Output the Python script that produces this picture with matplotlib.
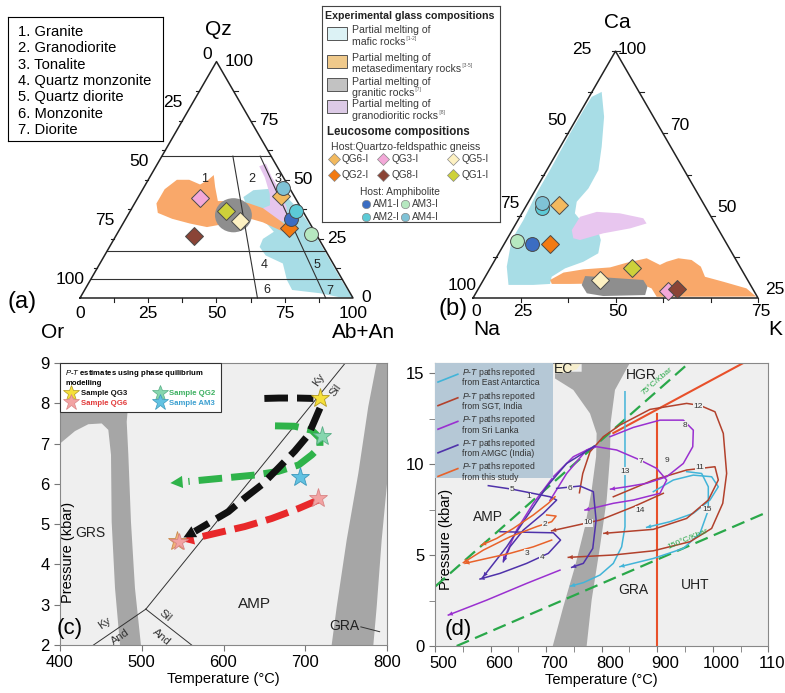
import numpy as np
import matplotlib.pyplot as plt
from matplotlib.patches import Polygon, Ellipse, Rectangle
from matplotlib.lines import Line2D
from matplotlib.legend_handler import HandlerBase
from matplotlib.ticker import MultipleLocator
import matplotlib.transforms as mtransforms

plt.rcParams['font.family'] = ['Liberation Sans', 'DejaVu Sans']
plt.rcParams['mathtext.fontset'] = 'custom'
plt.rcParams['mathtext.it'] = 'Liberation Sans:italic'
plt.rcParams['mathtext.rm'] = 'Liberation Sans'

W, H = 785, 693
S3 = np.sqrt(3) / 2

# ---------------- (a) Qz - Or - (Ab+An), values as (Ab+An %, Qz %) ----------------
rock_types = ['1. Granite', '2. Granodiorite', '3. Tonalite', '4. Quartz monzonite',
              '5. Quartz diorite', '6. Monzonite', '7. Diorite']
qz_lines = [60, 20, 8]
plag_lines = [65, 90]
field_nums = ['1', '2', '3', '4', '5', '6', '7']
field_ab = [20.7, 37.9, 47.4, 60.4, 80.0, 66.7, 89.8]
field_qz = [50.2, 50.2, 50.5, 13.9, 13.9, 3.4, 3.1]

mafic_a_ab = [38.5, 40.7, 47.7, 54.4, 60, 66.6, 72.5, 82.5, 92.5, 99.5, 95, 87, 76, 72, 67, 59, 55, 54.5, 57, 52.6, 45.6, 41.5]
mafic_a_qz = [42.7, 45.6, 46.3, 42.7, 38.5, 32.9, 27, 17, 7, 0.3, 0.3, 2, 3.4, 7.6, 14.6, 18, 21.6, 25, 28, 31.5, 35.7, 39]
gd_a_ab = [37.8, 39.7, 44.6, 50.5, 56.4, 60, 55.6, 48.4, 47.7, 50, 47.5, 42.2]
gd_a_qz = [55.7, 56.8, 51.2, 45.6, 38.5, 32, 32.9, 35, 37.8, 39.2, 44, 51]
sed_a_ab = [8, 8, 10.5, 15, 20, 22, 23, 26, 30, 38, 42, 48, 59, 65, 60.5, 51, 44, 38, 31.5, 24.5, 17, 10.5]
sed_a_qz = [40, 46, 50, 50, 48, 50, 52, 47, 41, 41, 40, 38, 31.5, 26.5, 28, 32, 34, 31.5, 30, 31.5, 33.5, 36]
granitic_a = (38.7, 35.0)

leuco_names = ['QG6-I', 'QG3-I', 'QG5-I', 'QG2-I', 'QG8-I', 'QG1-I']
leuco_colors = ['#f2b95e', '#f3a8d8', '#fdf1c2', '#f27a12', '#8a4436', '#cdd13a']
leuco_a_ab = [52, 22.7, 42.4, 61.7, 28.7, 35]
leuco_a_qz = [43, 42.5, 32.5, 29.7, 26.2, 37]
amph_names = ['AM1-I', 'AM3-I', 'AM2-I', 'AM4-I']
amph_colors = ['#3b6dc2', '#b6e8c0', '#5ccad6', '#7fc2d6']
amph_a_ab = [60.4, 71, 60.6, 51]
amph_a_qz = [33.6, 27, 37, 46.5]

# ---------------- (b) Na - K - Ca, values as (K %, Ca %) of the triangle ----------------
mafic_b_k = [0.9, 3.4, 9.3, 14.5, 18.1, 18.3, 16.9, 18.6, 22.7, 29, 33.1, 34.9, 31.4, 26.3, 23.3, 24.2, 18.5, 9.8, 5.5, 1.8, 1.9, 1.1, 1.1, 0.7, 0.7]
mafic_b_ca = [81.5, 83.5, 73.4, 61.3, 51.8, 44.4, 39, 34.3, 30.9, 28.9, 23.5, 18.1, 14.7, 12, 8.6, 5.7, 5.3, 5.3, 12.7, 23.5, 31.6, 42.4, 51.8, 66.7, 76.1]
gd_b_k = [20.9, 21.1, 26, 34.4, 43.6, 45.8, 41, 32.6, 25.8, 23.1]
gd_b_ca = [27.5, 32.9, 34.9, 34.3, 32.3, 30.2, 28.2, 26.2, 23.5, 24.2]
sed_b_k = [23.4, 26.6, 32.9, 41.9, 46.8, 52.9, 58.9, 60.6, 64, 69, 73.6, 77.1, 84.5, 94, 99, 64.2, 60.7, 57.1, 42.8, 31.2, 24.8]
sed_b_ca = [7.3, 10.3, 11.6, 12.4, 14.3, 16.1, 13.4, 14.7, 16.1, 15.4, 12.7, 8.6, 6.6, 3.9, 0.6, 0.5, 3.9, 5.3, 5.9, 5.7, 5.7]
gran_b_k = [34.9, 56.1, 58.9, 59.8, 45.3, 39, 35.5]
gran_b_ca = [8.9, 7.3, 4.6, 1.2, 0.8, 1.9, 5.3]
leuco_b_k = [11.5, 67.1, 40.9, 16.1, 69.7, 49.7]
leuco_b_ca = [37.7, 2.8, 7.3, 21.7, 3.5, 12]
amph_b_k = [9.7, 3.8, 5.9, 4.8]
amph_b_ca = [21.9, 23.1, 36.3, 38.6]

# ---------------- (c) P-T paths ----------------
grs_T = [400, 487.7, 481.6, 483.6, 486.8, 491.7, 499, 473.4, 467.3, 463.2, 462.4, 459.1, 451, 434.6, 418.3, 400]
grs_P = [9, 9, 7.54, 6.72, 5.06, 3.41, 2.0, 2.0, 3.41, 5.06, 6.72, 7.34, 7.5, 7.48, 7.31, 7.0]
gra_c_T = [787.4, 777.1, 764.9, 750.7, 738.5, 732.3, 783.3, 787.4, 793.5, 800, 800]
gra_c_P = [9, 7.92, 6.26, 4.61, 2.95, 2.0, 2.0, 2.95, 4.61, 6.0, 9]
kysil_T, kysil_P = [505, 749], [2.89, 9]
kyand_T, kyand_P = [505, 441], [2.89, 2.0]
andsil_T, andsil_P = [505, 561], [2.89, 2.0]

qg3_pre_T = [650, 668, 690, 710]
qg3_pre_P = [8.12, 8.13, 8.13, 8.12]
qg3_T = [718, 704, 687, 667, 647, 626, 606, 585, 565, 551]
qg3_P = [7.88, 7.22, 6.81, 6.39, 5.98, 5.65, 5.31, 5.06, 4.82, 4.67]
qg2_T = [663, 687, 708, 718, 718, 708, 692, 667, 639, 598, 557, 535]
qg2_P = [7.44, 7.43, 7.33, 7.13, 6.92, 6.72, 6.47, 6.31, 6.22, 6.14, 6.06, 6.02]
qg6_T = [716, 692, 659, 626, 590, 565, 549]
qg6_P = [5.6, 5.39, 5.14, 4.94, 4.77, 4.65, 4.58]
star_labels = ['Sample QG3', 'Sample QG6', 'Sample QG2', 'Sample AM3']
star_fc = ['#f6e03a', '#f2a3a3', '#86d6ae', '#62c2e2']
star_ec = ['#b39a22', '#d98585', '#5aae86', '#3d98bb']
star_text = ['#111111', '#e23a3a', '#3cb060', '#3a9fd0']
star_T = [718, 716, 720, 693.5]
star_P = [8.12, 5.64, 7.19, 6.18]
start_T = [543, 546]
start_P = [4.58, 4.55]

# ---------------- (d) compiled P-T paths ----------------
band_d_T = [764, 851, 824, 816, 815, 809, 797, 782, 773, 712, 731, 752, 770, 782, 790, 791, 779, 749, 716, 716, 764]
band_d_P = [15.57, 15.57, 14.07, 12.23, 10.4, 8.02, 5.46, 2.53, 0, 0, 2.16, 4.36, 6.56, 8.57, 10.4, 11.68, 12.78, 14.07, 14.7, 15.07, 15.07]
ec_T = [713, 764, 755, 737, 716]
ec_P = [15.57, 15.57, 15.2, 15.02, 14.98]
grad75_T, grad75_P = [500, 953], [3.26, 15.44]
grad150_T, grad150_P = [539, 1100], [0, 7.38]
uht_T, uht_P = [900, 900], [0, 12.75]
red_T, red_P = [821, 1055], [11.7, 15.55]

group_labels = ['from East Antarctica', 'from SGT, India', 'from Sri Lanka', 'from AMGC (India)', 'from this study']
group_colors = ['#42b4d8', '#b2412c', '#9a30d0', '#4f32aa', '#e8622a']
paths_d = [
    (0, [842, 842, 836, 821, 797, 767, 744], [13.97, 6.55, 5.45, 4.54, 3.90, 3.48, 3.29]),
    (0, [893, 929, 965, 998, 1010, 995, 965, 923, 881], [8.48, 9.12, 9.39, 9.30, 8.75, 8.02, 7.29, 6.83, 6.52]),
    (0, [953, 980, 992, 992, 977, 947, 893, 833], [9.58, 9.48, 8.75, 7.47, 6.19, 5.36, 4.81, 4.36]),
    (1, [760, 766, 779, 803, 833, 887, 953, 977, 1004, 1019, 1025, 1018, 998, 959, 893, 821, 740],
        [8.42, 9.48, 10.67, 11.5, 12.14, 13.0, 13.33, 13.22, 12.87, 11.68, 9.48, 7.84, 6.46, 5.73, 5.23, 5.0, 4.87]),
    (1, [821, 893, 953, 1004, 1010, 992, 953, 893, 804], [8.2, 9.12, 9.67, 9.85, 9.12, 8.02, 7.01, 6.41, 6.19]),
    (1, [911, 857, 797, 710], [8.39, 7.65, 6.92, 6.33]),
    (2, [815, 857, 905, 947, 965, 964, 947, 917, 881, 845, 816], [11.5, 12.01, 12.41, 12.41, 11.86, 10.95, 10.03, 9.3, 8.94, 8.75, 8.62]),
    (2, [707, 737, 773, 791, 827, 869, 899, 917, 905, 857, 821, 770], [8.0, 9.48, 10.77, 10.95, 10.77, 10.22, 9.76, 9.12, 8.39, 8.02, 7.84, 7.47]),
    (2, [788, 749, 713, 677, 647, 623], [10.99, 10.4, 9.3, 7.84, 6.37, 4.72]),
    (2, [725, 665, 593, 524], [4.17, 3.44, 2.52, 1.7]),
    (3, [596, 638, 707, 719, 695, 659, 635, 623], [8.81, 8.62, 8.2, 8.02, 7.29, 6.37, 5.45, 4.63]),
    (3, [719, 761, 785, 790, 784, 767, 746], [8.66, 8.79, 8.48, 6.92, 5.36, 4.54, 4.32]),
    (3, [617, 713, 726, 704, 665, 617, 581], [6.28, 6.22, 5.82, 5.09, 4.54, 3.99, 3.68]),
    (3, [788, 737, 701, 665, 629, 587], [10.99, 10.03, 8.75, 7.1, 5.45, 3.81]),
    (4, [716, 704, 677, 641, 611, 584], [8.2, 7.84, 7.2, 6.46, 5.91, 5.55]),
    (4, [701, 718, 710, 683, 635, 587, 551], [7.2, 7.14, 6.83, 6.56, 6.0, 5.27, 4.58]),
    (4, [710, 677, 635, 593, 554], [5.82, 5.45, 5.09, 4.81, 4.54]),
]
path_nums = ['1', '2', '3', '4', '5', '6', '7', '8', '9', '10', '11', '12', '13', '14', '15']
num_T = [668, 698, 665, 692, 638, 743, 870, 950, 917, 776, 977, 973, 842, 869, 989]
num_P = [8.2, 6.65, 5.09, 4.87, 8.62, 8.66, 10.13, 12.14, 10.18, 6.77, 9.8, 13.18, 9.61, 7.47, 7.5]

fig = plt.figure(figsize=(7.85, 6.93), dpi=100)


def rect_px(left, top, right, bottom):
    return [left / W, 1 - bottom / H, (right - left) / W, (bottom - top) / H]


def tern_axes(ox, oy, scale, xlim, ylim):
    ax = fig.add_axes(rect_px(ox + xlim[0] * scale, oy - ylim[1] * scale,
                              ox + xlim[1] * scale, oy - ylim[0] * scale))
    ax.set_xlim(*xlim)
    ax.set_ylim(*ylim)
    ax.axis('off')
    return ax


def txy(b, t):
    b = np.asarray(b, float) / 100
    t = np.asarray(t, float) / 100
    return b + t / 2, t * S3


def tpoly(ax, b, t, color, z):
    x, y = txy(b, t)
    ax.add_patch(Polygon(np.column_stack([x, y]), closed=True, fc=color, ec='none', zorder=z))


def triangle(ax, step):
    ax.plot([0, 1, 0.5, 0], [0, 0, S3, 0], color='#222222', lw=1.1, zorder=6)
    for f in np.arange(step, 1, step):
        ax.plot([f, f], [0, -0.015], color='#222222', lw=0.8)
        ax.plot([f / 2, f / 2 - 0.012], [f * S3, f * S3], color='#222222', lw=0.8)
        ax.plot([1 - f / 2, 1 - f / 2 + 0.015], [f * S3, f * S3], color='#222222', lw=0.8)


def markers(ax, lb, lt, ab, at):
    for b, t, c in zip(lb, lt, leuco_colors):
        x, y = txy(b, t)
        ax.plot(x, y, 'D', ms=9, mfc=c, mec='#4a4a4a', mew=0.7, zorder=8)
    for b, t, c in zip(ab, at, amph_colors):
        x, y = txy(b, t)
        ax.plot(x, y, 'o', ms=10, mfc=c, mec='#4a4a4a', mew=0.7, zorder=8)


# ---------------- panel (a) ----------------
axa = tern_axes(80, 298, 273, (-0.27, 1.27), (-0.2, 1.0))
tpoly(axa, mafic_a_ab, mafic_a_qz, '#a8dde6', 1)
tpoly(axa, gd_a_ab, gd_a_qz, '#e6c6ee', 2)
tpoly(axa, sed_a_ab, sed_a_qz, '#f9a86a', 3)
gx, gy = txy(*granitic_a)
axa.add_patch(Ellipse((gx, gy), 0.135, 0.125, fc='#8e8e8e', ec='none', zorder=4))
for q in qz_lines:
    axa.plot([q / 200, 1 - q / 200], [q / 100 * S3] * 2, color='#333333', lw=0.8, zorder=5)
for r in plag_lines:
    x, y = txy([0.4 * r, r], [60, 0])
    axa.plot(x, y, color='#333333', lw=0.8, zorder=5)
for s, b, t in zip(field_nums, field_ab, field_qz):
    x, y = txy(b, t)
    axa.text(x, y, s, fontsize=9, ha='center', va='center', color='#222222', zorder=7)
triangle(axa, 0.125)
markers(axa, leuco_a_ab, leuco_a_qz, amph_a_ab, amph_a_qz)
left_ticks_a = ['0', '25', '50', '75', '100']
right_ticks_a = ['100', '75', '50', '25', '0']
for lab_l, lab_r, q in zip(left_ticks_a, right_ticks_a, [100, 75, 50, 25, 0]):
    x, y = txy(0, q)
    off = (-7, 5) if q == 100 else (-7, 13)
    axa.annotate(lab_l, (x, y), xytext=off, textcoords='offset points', ha='center', va='center', fontsize=12.5)
    x, y = txy(100 - q, q)
    axa.annotate(lab_r, (x, y), xytext=(6, 0), textcoords='offset points', ha='left', va='center', fontsize=12.5)
for lab, b in zip(['0', '25', '50', '75', '100'], [0, 25, 50, 75, 100]):
    x, y = txy(b, 0)
    axa.annotate(lab, (x, y), xytext=(0, -11), textcoords='offset points', ha='center', va='center', fontsize=12.5)
axa.text(0.505, 0.985, 'Qz', fontsize=15, ha='center', va='center')
axa.text(-0.099, -0.128, 'Or', fontsize=15, ha='center', va='center')
axa.text(1.037, -0.128, 'Ab+An', fontsize=15, ha='center', va='center')
axa.text(-0.212, -0.015, '(a)', fontsize=17, ha='center', va='center')

# rock type key
axk = fig.add_axes(rect_px(8, 17, 163, 141))
axk.set_xticks([])
axk.set_yticks([])
for sp in axk.spines.values():
    sp.set_linewidth(0.8)
for i, name in enumerate(rock_types):
    axk.text(0.065, 1 - (15 + 16.3 * i) / 124, name, fontsize=10.6, va='center', transform=axk.transAxes)

# ---------------- panel (b) ----------------
axb = tern_axes(473, 298, 285, (-0.25, 1.09), (-0.2, 0.95))
tpoly(axb, mafic_b_k, mafic_b_ca, '#a8dde6', 1)
tpoly(axb, gd_b_k, gd_b_ca, '#e8c6ef', 2)
tpoly(axb, sed_b_k, sed_b_ca, '#f9a86a', 3)
tpoly(axb, gran_b_k, gran_b_ca, '#8e8e8e', 4)
triangle(axb, 1 / 6)
markers(axb, leuco_b_k, leuco_b_ca, amph_b_k, amph_b_ca)
for lab, f in zip(['0', '25', '50', '75'], [0, 1 / 6, 1 / 2, 1]):
    axb.annotate(lab, (f, 0), xytext=(2, -10), textcoords='offset points', ha='center', va='center', fontsize=12.5)
for lab, f in zip(['100', '75', '50', '25'], [0, 1 / 3, 2 / 3, 1]):
    off = (-24, 1.5) if f == 1 else (-8, 9)
    axb.annotate(lab, (f / 2, f * S3), xytext=off, textcoords='offset points', ha='center', va='center', fontsize=12.5)
for lab, f in zip(['25', '50', '70', '100'], [0, 1 / 3, 2 / 3, 1]):
    axb.annotate(lab, (1 - f / 2, f * S3), xytext=(12, 6 if f < 1 else 1), textcoords='offset points',
                 ha='center', va='center', fontsize=12.5)
axb.text(0.505, 0.965, 'Ca', fontsize=15, ha='center', va='center')
axb.text(0.049, -0.11, 'Na', fontsize=15, ha='center', va='center')
axb.text(1.062, -0.11, 'K', fontsize=15, ha='center', va='center')
axb.text(-0.07, -0.04, '(b)', fontsize=17, ha='center', va='center')

# ---------------- composition key ----------------
axl = fig.add_axes(rect_px(322, 6, 500, 222))
axl.set_xlim(0, 178)
axl.set_ylim(216, 0)
axl.set_xticks([])
axl.set_yticks([])
for sp in axl.spines.values():
    sp.set_linewidth(0.8)
    sp.set_color('#444444')
axl.text(3, 10, 'Experimental glass compositions', fontsize=7.7, fontweight='bold', va='center', color='#222222')
swatch_colors = ['#dcf2f5', '#efc98b', '#c2c2c2', '#dccae6']
swatch_y = [21, 49, 72, 94]
sw_lines = [('Partial melting of', 'mafic rocks', '[1-2]'),
            ('Partial melting of', 'metasedimentary rocks', '[3-5]'),
            ('Partial melting of', 'granitic rocks', '[7]'),
            ('Partial melting of', 'granodioritic rocks', '[8]')]
sw_text_y = [(24, 36), (52, 63), (76, 87), (98, 110)]
for c, y0, (l1, l2, ref), (y1, y2) in zip(swatch_colors, swatch_y, sw_lines, sw_text_y):
    axl.add_patch(Rectangle((5, y0), 20, 13, fc=c, ec='#555555', lw=0.7))
    axl.text(30, y1, l1, fontsize=7.6, va='center', color='#3a3a3a')
    t2 = axl.text(30, y2, l2, fontsize=7.6, va='center', color='#3a3a3a')
    axl.annotate(' ' + ref, xy=(1, 0.6), xycoords=t2, fontsize=3.5, va='bottom', color='#555555')
axl.text(5, 126, 'Leucosome compositions', fontsize=8.3, fontweight='bold', va='center', color='#222222')
axl.text(9, 141, 'Host:Quartzo-feldspathic gneiss', fontsize=7.6, va='center', color='#3a3a3a')
lx = [12, 61, 131]
for i, (name, c) in enumerate(zip(leuco_names, leuco_colors)):
    x, y = lx[i % 3], 153 + 16 * (i // 3)
    axl.plot(x, y, 'D', ms=6, mfc=c, mec='#888888', mew=0.5)
    axl.text(x + 8, y, name, fontsize=7.2, va='center', color='#3a3a3a')
axl.text(38, 186, 'Host: Amphibolite', fontsize=7.4, va='center', color='#3a3a3a')
for i, (name, c) in enumerate(zip(amph_names, amph_colors)):
    x, y = [44, 83][i % 2], 198 + 13 * (i // 2)
    axl.plot(x, y, 'o', ms=6, mfc=c, mec='#888888', mew=0.5)
    axl.text(x + 7, y, name, fontsize=7.2, va='center', color='#3a3a3a')

# ---------------- panel (c) ----------------
axc = fig.add_axes(rect_px(60, 363, 387, 645))
axc.set_facecolor('#efefef')
axc.set_xlim(400, 800)
axc.set_ylim(2, 9)
axc.add_patch(Polygon(np.column_stack([grs_T, grs_P]), fc='#a6a6a6', ec='none', zorder=1))
axc.add_patch(Polygon(np.column_stack([gra_c_T, gra_c_P]), fc='#a6a6a6', ec='none', zorder=1))
for T, P in [(kysil_T, kysil_P), (kyand_T, kyand_P), (andsil_T, andsil_P)]:
    axc.plot(T, P, color='#333333', lw=0.7, zorder=2)


def dashed_arrow(ax, T, P, color, lw, dash, head):
    ax.plot(T[:-1], P[:-1], color=color, lw=lw, ls=(0, dash), dash_capstyle='butt', zorder=3)
    ax.annotate('', xy=(T[-1], P[-1]), xytext=(T[-2], P[-2]),
                arrowprops=dict(arrowstyle='-|>', color=color, lw=0, mutation_scale=head,
                                shrinkA=0, shrinkB=0), zorder=3)


axc.plot(qg3_pre_T, qg3_pre_P, color='#111111', lw=5, ls=(0, (3.4, 1.3)), dash_capstyle='butt', zorder=3)
dashed_arrow(axc, qg2_T, qg2_P, '#2fb34a', 5, (3.4, 1.3), 22)
dashed_arrow(axc, qg6_T, qg6_P, '#e8282a', 5, (3.4, 1.3), 22)
dashed_arrow(axc, qg3_T, qg3_P, '#111111', 5, (3.4, 1.3), 22)
for T, P, fc, ec in zip(star_T, star_P, star_fc, star_ec):
    axc.plot(T, P, '*', ms=14, mfc=fc, mec=ec, mew=0.6, zorder=5)
axc.plot(start_T[0], start_P[0], '*', ms=14, mfc='#f3b27a', mec='#c98a50', mew=0.6, zorder=5)
axc.plot(start_T[1], start_P[1], '*', ms=13, mfc='#f2a3a3', mec='#d98585', mew=0.6, zorder=5)

axc.text(716, 8.58, 'Ky', fontsize=8, rotation=55, ha='center', va='center', color='#333333')
axc.text(737, 8.33, 'Sil', fontsize=8, rotation=55, ha='center', va='center', color='#333333')
axc.text(454, 2.55, 'Ky', fontsize=8, rotation=35, ha='center', va='center', color='#333333')
axc.text(474, 2.2, 'And', fontsize=8, rotation=35, ha='center', va='center', color='#333333')
axc.text(529, 2.72, 'Sil', fontsize=8, rotation=-40, ha='center', va='center', color='#333333')
axc.text(524, 2.2, 'And', fontsize=8, rotation=-40, ha='center', va='center', color='#333333')
axc.text(437, 4.77, 'GRS', fontsize=10, ha='center', va='center', color='#222222')
axc.text(638, 3.02, 'AMP', fontsize=11, ha='center', va='center', color='#222222')
axc.text(748, 2.48, 'GRA', fontsize=10, ha='center', va='center', color='#222222')
axc.plot([768, 791], [2.45, 2.33], color='#333333', lw=0.7)
axc.text(412, 2.42, '(c)', fontsize=16, ha='center', va='center')

star_handles = [Line2D([], [], ls='', marker='*', ms=12, mfc=fc, mec=ec, mew=0.5)
                for fc, ec in zip(star_fc, star_ec)]
leg = axc.legend(star_handles, star_labels, ncol=2, loc='upper left', bbox_to_anchor=(0, 1), borderaxespad=0,
                 title=r'$\it{P}$-$\it{T}$ estimates using phase quilibrium' + '\nmodelling',
                 title_fontproperties={'weight': 'bold', 'size': 5.6}, prop={'weight': 'bold', 'size': 5.6},
                 alignment='left', fancybox=False, edgecolor='#333333', framealpha=1, borderpad=0.7,
                 handletextpad=0.5, columnspacing=3.4, labelspacing=0.3, handlelength=1.5)
leg.get_frame().set_linewidth(0.8)
leg.set_zorder(10)
for t, c in zip(leg.get_texts(), star_text):
    t.set_color(c)

axc.xaxis.set_major_locator(MultipleLocator(100))
axc.yaxis.set_major_locator(MultipleLocator(1))
axc.tick_params(labelsize=12, length=4, color='#777777')
for sp in axc.spines.values():
    sp.set_color('#888888')
axc.set_xlabel('Temperature (°C)', fontsize=10.5, labelpad=1)
axc.set_ylabel('Pressure (kbar)', fontsize=10.5)
axc.yaxis.set_label_coords(0.046, 0.33)

# ---------------- panel (d) ----------------
axd = fig.add_axes(rect_px(435, 363, 768.3, 646))
axd.set_facecolor('#efefef')
axd.set_xlim(500, 1100)
axd.set_ylim(0, 15.55)
axd.add_patch(Polygon(np.column_stack([band_d_T, band_d_P]), fc='#a8a8a8', ec='none', zorder=1))
axd.add_patch(Polygon(np.column_stack([ec_T, ec_P]), fc='#f6eecd', ec='none', zorder=1))
axd.plot(grad75_T, grad75_P, color='#2aa84a', lw=1.6, ls=(0, (6, 3)), zorder=2)
axd.plot(grad150_T, grad150_P, color='#2aa84a', lw=1.6, ls=(0, (6, 3)), zorder=2)
axd.plot(uht_T, uht_P, color='#e8502a', lw=1.5, zorder=2)
axd.plot(red_T, red_P, color='#e8502a', lw=1.5, zorder=2)
for g, T, P in paths_d:
    c = group_colors[g]
    axd.plot(T, P, color=c, lw=1.1, zorder=3)
    axd.annotate('', xy=(T[-1], P[-1]), xytext=(T[-2], P[-2]),
                 arrowprops=dict(arrowstyle='-|>', color=c, lw=0, mutation_scale=8, shrinkA=0, shrinkB=0),
                 zorder=3)
for s, T, P in zip(path_nums, num_T, num_P):
    axd.text(T, P, s, fontsize=6, ha='center', va='center', color='#333333', zorder=4,
             bbox=dict(fc='#efefef', ec='none', pad=0.3))
axd.text(900, 14.55, '75°C/Kbar', fontsize=6, rotation=41, color='#2aa84a', ha='center', va='center')
axd.text(955, 5.85, '150°C/Kbar', fontsize=6, rotation=23, color='#2aa84a', ha='center', va='center')
axd.text(596, 7.1, 'AMP', fontsize=10, ha='center', va='center', color='#222222')
axd.text(857, 3.07, 'GRA', fontsize=10, ha='center', va='center', color='#222222')
axd.text(968, 3.35, 'UHT', fontsize=10, ha='center', va='center', color='#222222')
axd.text(872, 14.9, 'HGR', fontsize=10, ha='center', va='center', color='#222222')
axd.text(731, 15.2, 'EC', fontsize=10, ha='center', va='center', color='#222222')
axd.text(542, 0.9, '(d)', fontsize=16, ha='center', va='center')


class DiagHandler(HandlerBase):
    def create_artists(self, legend, orig_handle, xdescent, ydescent, width, height, fontsize, trans):
        x0, x1 = -xdescent, -xdescent + width
        y0, y1 = -ydescent - 0.3 * height, -ydescent + 1.0 * height
        return [Line2D([x0, x1], [y0, y1], color=orig_handle.get_color(), lw=1.2, transform=trans)]


axd.add_patch(Rectangle((0, 0.594), 0.354, 0.406, transform=axd.transAxes, fc='#b5c8d6', ec='none', zorder=6))
d_handles = [Line2D([], [], color=c, lw=1.2) for c in group_colors]
d_labels = [r'$\it{P}$-$\it{T}$ paths reported' + '\n' + s for s in group_labels]
legd = axd.legend(d_handles, d_labels, loc='upper left', bbox_to_anchor=(0.0, 1.0), borderaxespad=0.1,
                  frameon=False, fontsize=6.2, handlelength=2.3, labelspacing=0.25, borderpad=0.25,
                  handletextpad=0.5, handler_map={Line2D: DiagHandler()})
legd.set_zorder(7)
for t in legd.get_texts():
    t.set_color('#333333')
    t.set_linespacing(0.92)

axd.xaxis.set_major_locator(MultipleLocator(100))
axd.xaxis.set_minor_locator(MultipleLocator(50))
axd.yaxis.set_major_locator(MultipleLocator(5))
axd.yaxis.set_minor_locator(MultipleLocator(2.5))
axd.tick_params(which='both', labelsize=12, length=4, color='#777777')
for sp in axd.spines.values():
    sp.set_color('#888888')
shift = mtransforms.ScaledTranslation(0.08, 0, fig.dpi_scale_trans)
for lab in axd.get_xticklabels():
    lab.set_transform(lab.get_transform() + shift)
axd.set_xlabel('Temperature (°C)', fontsize=10.5, labelpad=1)
axd.set_ylabel('Pressure (kbar)', fontsize=10.5)
axd.yaxis.set_label_coords(0.054, 0.375)

fig.savefig('out.png', dpi=100)
